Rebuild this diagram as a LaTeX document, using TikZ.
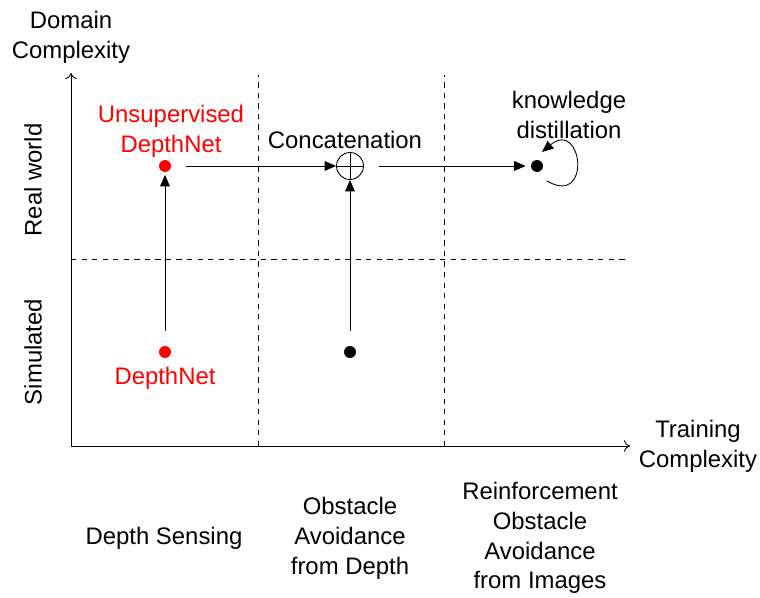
\documentclass[tikz,border=0pt]{standalone}
\usepackage{fontspec}
\setmainfont{Liberation Sans}
\usetikzlibrary{arrows.meta}

\tikzset{
    dot/.style = {circle, fill, inner sep=0pt, minimum size=0.24cm},
    conn/.style = {-{Triangle[length=6.5pt, width=5.5pt]}},
    axis/.style = {-{To[length=3.5pt, width=6.5pt]}},
    grid line/.style = {dashed, line width=0.5pt},
}

\begin{document}
\begin{tikzpicture}[font=\fontsize{13.6}{17}\selectfont, line width=0.5pt]
            \useasboundingbox (-1.42,-3.02) rectangle (13.78,8.92);

            % axes and grid
            \coordinate (O) at (0,0);
            \coordinate (ytop) at (0,7.46);
            \coordinate (xend) at (11.18,0);
            \draw[axis] (O) -- (ytop);
            \draw[axis] (O) -- (xend);
            \draw[grid line] (3.74,0) -- (3.74,7.42);
            \draw[grid line] (7.46,0) -- (7.46,7.42);
            \draw[grid line] (0,3.74) -- (11.14,3.74);

            % axis labels
            \node[align=center] (domain) at (0,8.17) {Domain\\Complexity};
            \node[align=center] (training) at (12.54,0.0) {Training\\Complexity};
            \node[rotate=90] (real) at (-0.76,5.32) {Real world};
            \node[rotate=90] (sim) at (-0.76,1.88) {Simulated};

            % columns
            \node[align=center] (depth) at (1.86,-1.84) {Depth Sensing};
            \node[align=center] (avoid) at (5.58,-1.84) {Obstacle\\Avoidance\\from Depth};
            \node[align=center] (rl) at (9.38,-1.84) {Reinforcement\\Obstacle\\Avoidance\\from Images};

            % points
            \node[dot, red] (dn) at (1.88,1.88) {};
            \node[dot, red] (udn) at (1.88,5.6) {};
            \node[dot] (od) at (5.58,1.88) {};
            \node[circle, draw, inner sep=0pt, minimum size=0.54cm] (cat) at (5.58,5.6) {};
            \draw (cat.north) -- (cat.south) (cat.west) -- (cat.east);
            \node[dot] (kd) at (9.32,5.6) {};

            \node[red, align=center] at (2.0,6.29) {Unsupervised\\DepthNet};
            \node[red] at (1.88,1.36) {DepthNet};
            \node at (5.48,6.12) {Concatenation};
            \node[align=center] at (9.96,6.62) {knowledge\\distillation};

            % connectors
            \draw[conn, shorten <=0.3cm, shorten >=0.05cm] (dn) -- (udn);
            \draw[conn, shorten <=0.3cm] (udn) -- (cat);
            \draw[conn, shorten <=0.3cm] (od) -- (cat);
            \draw[conn, shorten <=0.3cm, shorten >=0.1cm] (cat) -- (kd);
            \draw[conn] ([shift={(0.2,-0.3)}]kd.center) to[out=-30, in=40, distance=1.05cm] ([shift={(0.1,0.28)}]kd.center);
        \end{tikzpicture}
\end{document}
